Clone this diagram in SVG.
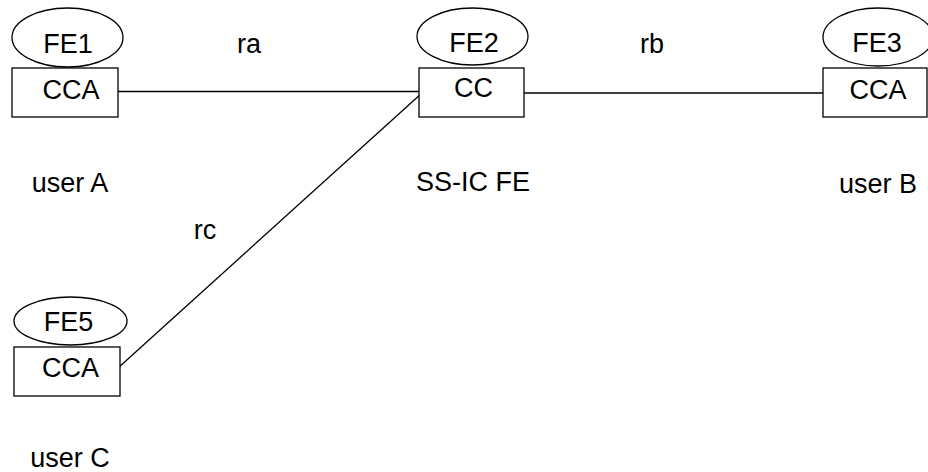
<svg xmlns="http://www.w3.org/2000/svg" width="928" height="472" viewBox="0 0 928 472">
<style>
  .shape { fill: #ffffff; stroke: #000000; stroke-width: 1.3; }
  .conn { fill: none; stroke: #000000; stroke-width: 1.3; }
  text { font-family: "Liberation Sans", Arial, sans-serif; font-size: 27px; fill: #000000; text-anchor: middle; }
</style>
<rect width="928" height="472" fill="#ffffff"/>
<g id="connectors">
  <line class="conn" x1="118" y1="91.5" x2="422" y2="91.5"/>
  <line class="conn" x1="524" y1="93" x2="823" y2="93"/>
  <line class="conn" x1="118" y1="368" x2="422" y2="93"/>
</g>
<g id="fe1">
  <ellipse class="shape" cx="67.5" cy="37.5" rx="55.5" ry="29.5"/>
  <rect class="shape" x="12" y="68" width="106" height="49"/>
  <text x="68" y="53">FE1</text>
  <text x="71" y="99">CCA</text>
</g>
<g id="fe2">
  <ellipse class="shape" cx="472.5" cy="36.5" rx="55.5" ry="28.5"/>
  <rect class="shape" x="419" y="68" width="105" height="49"/>
  <text x="474" y="52">FE2</text>
  <text x="473.5" y="97">CC</text>
</g>
<g id="fe3">
  <ellipse class="shape" cx="878" cy="37" rx="55" ry="29"/>
  <rect class="shape" x="823" y="68" width="104" height="49"/>
  <text x="877" y="52">FE3</text>
  <text x="878" y="99">CCA</text>
</g>
<g id="fe5">
  <ellipse class="shape" cx="70.5" cy="321" rx="56.5" ry="24"/>
  <rect class="shape" x="14" y="347" width="106" height="49"/>
  <text x="68.5" y="331">FE5</text>
  <text x="70.5" y="377">CCA</text>
</g>
<g id="labels">
  <text x="249" y="53">ra</text>
  <text x="652" y="53">rb</text>
  <text x="205" y="239">rc</text>
  <text x="70" y="192">user A</text>
  <text x="473" y="191">SS-IC FE</text>
  <text x="878" y="193">user B</text>
  <text x="70" y="467">user C</text>
</g>
</svg>
